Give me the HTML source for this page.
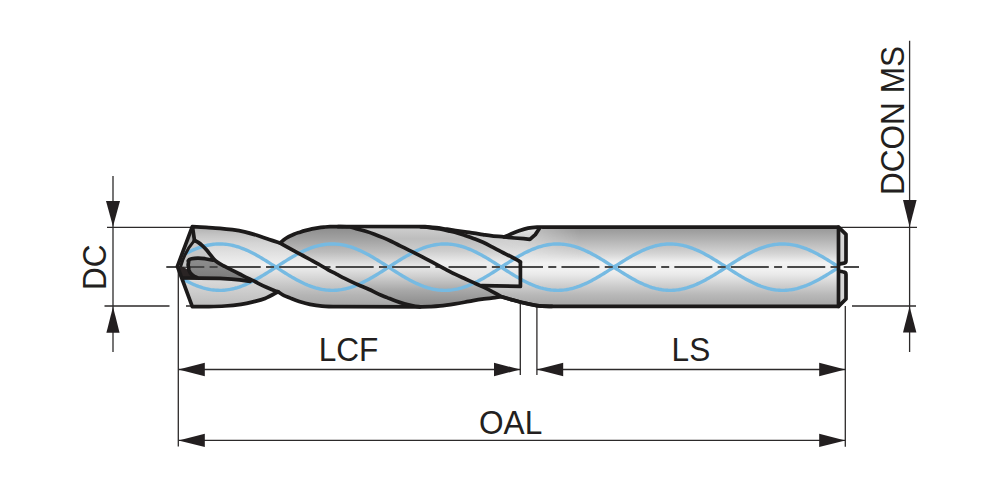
<!DOCTYPE html>
<html><head><meta charset="utf-8"><style>
html,body{margin:0;padding:0;background:#fff;overflow:hidden;}
svg{display:block;}
text{font-family:"Liberation Sans",sans-serif;fill:#231f20;}
</style></head><body>
<svg width="1000" height="488" viewBox="0 0 1000 488">
<defs>
<linearGradient id="g" x1="0" y1="227" x2="0" y2="306" gradientUnits="userSpaceOnUse">
<stop offset="0" stop-color="#959595"/>
<stop offset="0.19" stop-color="#b8b8b8"/>
<stop offset="0.34" stop-color="#d5d5d5"/>
<stop offset="0.45" stop-color="#f2f2f2"/>
<stop offset="0.55" stop-color="#f0f0f0"/>
<stop offset="0.61" stop-color="#e8e8e8"/>
<stop offset="0.73" stop-color="#d0d0d0"/>
<stop offset="0.86" stop-color="#b8b8b8"/>
<stop offset="1" stop-color="#a6a6a6"/>
</linearGradient>
<linearGradient id="gc" x1="0" y1="257" x2="0" y2="281" gradientUnits="userSpaceOnUse">
<stop offset="0" stop-color="#8e8e8e"/>
<stop offset="0.5" stop-color="#868686"/>
<stop offset="1" stop-color="#787878"/>
</linearGradient>
<linearGradient id="gl" x1="0" y1="227" x2="0" y2="241" gradientUnits="userSpaceOnUse">
<stop offset="0" stop-color="#e8e8e8"/>
<stop offset="1" stop-color="#c8c8c8"/>
</linearGradient>
<linearGradient id="gA" x1="0" y1="227" x2="0" y2="306" gradientUnits="userSpaceOnUse">
<stop offset="0" stop-color="#b0b0b0"/>
<stop offset="0.1" stop-color="#c4c4c4"/>
<stop offset="0.2" stop-color="#d4d4d4"/>
<stop offset="0.3" stop-color="#dedede"/>
<stop offset="0.4" stop-color="#e8e8e8"/>
<stop offset="0.48" stop-color="#f0f0f0"/>
<stop offset="0.57" stop-color="#e2e2e2"/>
<stop offset="0.73" stop-color="#c8c8c8"/>
<stop offset="0.86" stop-color="#b5b5b5"/>
<stop offset="1" stop-color="#a6a6a6"/>
</linearGradient>
<linearGradient id="gB" x1="0" y1="227" x2="0" y2="306" gradientUnits="userSpaceOnUse">
<stop offset="0" stop-color="#8c8c8c"/>
<stop offset="0.16" stop-color="#a2a2a2"/>
<stop offset="0.32" stop-color="#bdbdbd"/>
<stop offset="0.4" stop-color="#d0d0d0"/>
<stop offset="0.5" stop-color="#e8e8e8"/>
<stop offset="0.61" stop-color="#d2d2d2"/>
<stop offset="0.8" stop-color="#a8a8a8"/>
<stop offset="0.92" stop-color="#969696"/>
<stop offset="1" stop-color="#8c8c8c"/>
</linearGradient>
<linearGradient id="gR4" x1="0" y1="227" x2="0" y2="287" gradientUnits="userSpaceOnUse">
<stop offset="0" stop-color="#cfcfcf"/>
<stop offset="0.2" stop-color="#bdbdbd"/>
<stop offset="0.4" stop-color="#cdcdcd"/>
<stop offset="0.6" stop-color="#eeeeee"/>
<stop offset="0.8" stop-color="#e6e6e6"/>
<stop offset="1" stop-color="#d8d8d8"/>
</linearGradient>
<linearGradient id="gLow" x1="0" y1="278" x2="0" y2="306" gradientUnits="userSpaceOnUse">
<stop offset="0" stop-color="#dcdcdc"/>
<stop offset="1" stop-color="#bcbcbc"/>
</linearGradient>
<linearGradient id="gS" x1="0" y1="227" x2="0" y2="263" gradientUnits="userSpaceOnUse">
<stop offset="0" stop-color="#c8c8c8"/>
<stop offset="0.5" stop-color="#d6d6d6"/>
<stop offset="1" stop-color="#efefef"/>
</linearGradient>
<linearGradient id="gSm" x1="440" y1="0" x2="580" y2="0" gradientUnits="userSpaceOnUse">
<stop offset="0" stop-color="#fff"/>
<stop offset="0.6" stop-color="#ddd"/>
<stop offset="1" stop-color="#000"/>
</linearGradient>
<mask id="mS" maskUnits="userSpaceOnUse" x="400" y="200" width="200" height="100"><rect x="400" y="200" width="200" height="100" fill="url(#gSm)"/></mask>
<clipPath id="clip"><path d="M192.3 226.7C194.58 226.82 201.38 227.13 206 227.4C210.62 227.67 215.62 227.92 220 228.3C224.38 228.68 228.2 229.1 232.3 229.7C236.4 230.3 240.5 230.97 244.6 231.9C248.7 232.83 252.8 234.02 256.9 235.3C261 236.58 265.35 238.32 269.2 239.6C273.05 240.88 278.2 242.43 280 243C281 242.2 283.67 239.65 286 238.2C288.33 236.75 291.67 235.3 294 234.3C296.33 233.3 298 232.85 300 232.2C302 231.55 304 230.95 306 230.4C308 229.85 310 229.33 312 228.9C314 228.47 316 228.1 318 227.8C320 227.5 322 227.28 324 227.1C326 226.92 326.5 226.8 330 226.7C333.5 226.6 342.5 226.53 345 226.5L425 226.6C426.83 226.77 432.33 227.17 436 227.6C439.67 228.03 442.17 228.5 447 229.2C451.83 229.9 460.5 231.15 465 231.8C469.5 232.45 471 232.63 474 233.1C477 233.57 480 234.13 483 234.6C486 235.07 488.42 235.52 492 235.9C495.58 236.28 502.42 236.73 504.5 236.9C505.43 236.48 507.67 235.42 510.1 234.4C512.53 233.38 516.1 231.85 519.1 230.8C522.1 229.75 525.1 228.72 528.1 228.1C531.1 227.48 534.28 227.27 537.1 227.1C539.92 226.93 542.52 227.05 545 227.05C547.48 227.05 550.83 227.09 552 227.1L838.5 227.1 L838.5 306.4 L552 306.4C549.5 306.27 542.17 306.3 537 305.6C531.83 304.9 525.32 303.2 521 302.2C516.68 301.2 514.35 300.48 511.1 299.6C507.85 298.72 504.18 297.23 501.5 296.9C498.82 296.57 498.25 297.22 495 297.6C491.75 297.98 486.33 298.57 482 299.2C477.67 299.83 473.5 300.63 469 301.4C464.5 302.17 459.83 303.05 455 303.8C450.17 304.55 444.17 305.43 440 305.9C435.83 306.37 433.33 306.45 430 306.6C426.67 306.75 421.67 306.77 420 306.8L338 306.7C335.33 306.7 326.67 306.6 322 306.2C317.33 305.8 313.8 305.2 310 304.4C306.2 303.6 302.37 302.4 299.2 301.4C296.03 300.4 293.73 299.48 291 298.4C288.27 297.32 284.97 296 282.8 294.9C280.63 293.8 278.8 292.32 278 291.8C275.83 292.92 269.17 296.82 265 298.5C260.83 300.18 257 300.93 253 301.9C249 302.87 245.67 303.62 241 304.3C236.33 304.98 230.33 305.62 225 306C219.67 306.38 214.45 306.5 209 306.6C203.55 306.7 195.08 306.6 192.3 306.6L177.4 266.3 Z"/></clipPath>
</defs>
<!-- dimension lines -->
<g stroke="#2c2a2a" stroke-width="1.3" fill="none">
<path d="M113 176 V352"/>
<path d="M107 227.3 H192"/>
<path d="M104.5 306 H169.5 M186 306 H192"/>
<path d="M178.3 266 V446.5"/>
<path d="M520.3 303 V375"/>
<path d="M536.9 307 V375"/>
<path d="M845.3 306 V446.7"/>
<path d="M840 227.3 H917"/>
<path d="M852 306 H916"/>
<path d="M909.6 40.7 V352"/>
<path d="M178.5 369.5 H520.3"/>
<path d="M536.9 369.5 H845.3"/>
<path d="M178.5 440.4 H845.3"/>
</g>
<g fill="#231f20">
<path d="M106 201 L120 201 L113 226.5 Z"/>
<path d="M106.4 332.8 L119.6 332.8 L113 306.8 Z"/>
<path d="M178.5 369.5 L204.8 362.8 L204.8 376.2 Z"/>
<path d="M520.3 369.5 L494 362.8 L494 376.2 Z"/>
<path d="M536.9 369.5 L563.2 362.8 L563.2 376.2 Z"/>
<path d="M845.3 369.5 L819.2 362.8 L819.2 376.2 Z"/>
<path d="M178.5 440.4 L204.8 433.7 L204.8 447.1 Z"/>
<path d="M845.3 440.4 L819.2 433.7 L819.2 447.1 Z"/>
<path d="M903 200 L916.6 200 L909.6 227 Z"/>
<path d="M903 332.5 L916.4 332.5 L909.6 306.5 Z"/>
</g>
<!-- text -->
<text transform="translate(318.7,360.8) scale(1,1.025)" font-size="31.6">LCF</text>
<text transform="translate(671.6,360.5) scale(1,1.025)" font-size="31.6">LS</text>
<text transform="translate(479,434) scale(1,1.025)" font-size="31.6">OAL</text>
<text transform="translate(106.3,290) rotate(-90) scale(1,1.025)" font-size="31.6">DC</text>
<text transform="translate(903.9,195.1) rotate(-90) scale(1,1.025)" font-size="31.6">DCON MS</text>
<!-- body -->
<path d="M192.3 226.7C194.58 226.82 201.38 227.13 206 227.4C210.62 227.67 215.62 227.92 220 228.3C224.38 228.68 228.2 229.1 232.3 229.7C236.4 230.3 240.5 230.97 244.6 231.9C248.7 232.83 252.8 234.02 256.9 235.3C261 236.58 265.35 238.32 269.2 239.6C273.05 240.88 278.2 242.43 280 243C281 242.2 283.67 239.65 286 238.2C288.33 236.75 291.67 235.3 294 234.3C296.33 233.3 298 232.85 300 232.2C302 231.55 304 230.95 306 230.4C308 229.85 310 229.33 312 228.9C314 228.47 316 228.1 318 227.8C320 227.5 322 227.28 324 227.1C326 226.92 326.5 226.8 330 226.7C333.5 226.6 342.5 226.53 345 226.5L425 226.6C426.83 226.77 432.33 227.17 436 227.6C439.67 228.03 442.17 228.5 447 229.2C451.83 229.9 460.5 231.15 465 231.8C469.5 232.45 471 232.63 474 233.1C477 233.57 480 234.13 483 234.6C486 235.07 488.42 235.52 492 235.9C495.58 236.28 502.42 236.73 504.5 236.9C505.43 236.48 507.67 235.42 510.1 234.4C512.53 233.38 516.1 231.85 519.1 230.8C522.1 229.75 525.1 228.72 528.1 228.1C531.1 227.48 534.28 227.27 537.1 227.1C539.92 226.93 542.52 227.05 545 227.05C547.48 227.05 550.83 227.09 552 227.1L838.5 227.1 L838.5 306.4 L552 306.4C549.5 306.27 542.17 306.3 537 305.6C531.83 304.9 525.32 303.2 521 302.2C516.68 301.2 514.35 300.48 511.1 299.6C507.85 298.72 504.18 297.23 501.5 296.9C498.82 296.57 498.25 297.22 495 297.6C491.75 297.98 486.33 298.57 482 299.2C477.67 299.83 473.5 300.63 469 301.4C464.5 302.17 459.83 303.05 455 303.8C450.17 304.55 444.17 305.43 440 305.9C435.83 306.37 433.33 306.45 430 306.6C426.67 306.75 421.67 306.77 420 306.8L338 306.7C335.33 306.7 326.67 306.6 322 306.2C317.33 305.8 313.8 305.2 310 304.4C306.2 303.6 302.37 302.4 299.2 301.4C296.03 300.4 293.73 299.48 291 298.4C288.27 297.32 284.97 296 282.8 294.9C280.63 293.8 278.8 292.32 278 291.8C275.83 292.92 269.17 296.82 265 298.5C260.83 300.18 257 300.93 253 301.9C249 302.87 245.67 303.62 241 304.3C236.33 304.98 230.33 305.62 225 306C219.67 306.38 214.45 306.5 209 306.6C203.55 306.7 195.08 306.6 192.3 306.6L177.4 266.3 Z" fill="url(#g)"/>
<g clip-path="url(#clip)">
<path d="M192.3 226.7C194.58 226.82 201.38 227.13 206 227.4C210.62 227.67 215.62 227.92 220 228.3C224.38 228.68 228.2 229.1 232.3 229.7C236.4 230.3 240.5 230.97 244.6 231.9C248.7 232.83 252.8 234.02 256.9 235.3C261 236.58 265.35 238.32 269.2 239.6C273.05 240.88 278.2 242.43 280 243C281.07 243.62 283.97 245.33 286.4 246.7C288.83 248.07 291.87 249.73 294.6 251.2C297.33 252.67 300.07 254.03 302.8 255.5C305.53 256.97 308.13 258.42 311 260C313.87 261.58 317.13 263.37 320 265C322.87 266.63 325.47 268.28 328.2 269.8C330.93 271.32 333.67 272.67 336.4 274.1C339.13 275.53 341.87 277.02 344.6 278.4C347.33 279.78 350.07 281.13 352.8 282.4C355.53 283.67 358.27 284.82 361 286C363.73 287.18 366.27 288.15 369.2 289.5C372.13 290.85 375.6 292.75 378.6 294.1C381.6 295.45 384.33 296.45 387.2 297.6C390.07 298.75 392.93 299.97 395.8 301C398.67 302.03 401.53 303 404.4 303.8C407.27 304.6 410.4 305.3 413 305.8C415.6 306.3 418.83 306.63 420 306.8L338 306.7C335.33 306.7 326.67 306.6 322 306.2C317.33 305.8 313.8 305.2 310 304.4C306.2 303.6 302.37 302.4 299.2 301.4C296.03 300.4 293.73 299.48 291 298.4C288.27 297.32 284.97 296 282.8 294.9C280.63 293.8 278.8 292.32 278 291.8C277.43 291.6 276.53 291.35 274.6 290.6C272.67 289.85 269.13 288.52 266.4 287.3C263.67 286.08 260.1 284.27 258.2 283.3C256.3 282.33 256.73 282.35 255 281.5C253.27 280.65 250.37 279.45 247.8 278.2C245.23 276.95 242.33 275.4 239.6 274C236.87 272.6 234.13 271.2 231.4 269.8C228.67 268.4 225.43 266.8 223.2 265.6C220.97 264.4 219.53 263.63 218 262.6C216.47 261.57 215.25 260.68 214 259.4C212.75 258.12 211.77 256.5 210.5 254.9C209.23 253.3 207.77 251.35 206.4 249.8C205.03 248.25 203.67 246.83 202.3 245.6C200.93 244.37 199.5 243.27 198.2 242.4C196.9 241.53 195.12 240.73 194.5 240.4Z" fill="url(#gA)"/>
<path d="M280 243C281 242.2 283.67 239.65 286 238.2C288.33 236.75 291.67 235.3 294 234.3C296.33 233.3 298 232.85 300 232.2C302 231.55 304 230.95 306 230.4C308 229.85 310 229.33 312 228.9C314 228.47 316 228.1 318 227.8C320 227.5 322 227.28 324 227.1C326 226.92 326.5 226.8 330 226.7C333.5 226.6 342.5 226.53 345 226.5L348 227.2C351.2 227.32 354.57 228.18 357.2 228.9C359.83 229.62 362.93 230.42 365.8 231.3C368.67 232.18 371.53 233.15 374.4 234.2C377.27 235.25 380.13 236.38 383 237.6C385.87 238.82 388.73 240.13 391.6 241.5C394.47 242.87 397.33 244.37 400.2 245.8C403.07 247.23 405.93 248.67 408.8 250.1C411.67 251.53 414.53 252.95 417.4 254.4C420.27 255.85 423.07 257.27 426 258.8C428.93 260.33 431.72 261.85 435 263.6C438.28 265.35 442.37 267.53 445.7 269.3C449.03 271.07 451.78 272.62 455 274.2C458.22 275.78 461.8 277.35 465 278.8C468.2 280.25 471.12 281.5 474.2 282.9C477.28 284.3 480.42 285.72 483.5 287.2C486.58 288.68 489.7 290.23 492.7 291.8C495.7 293.37 500.03 295.8 501.5 296.6L501.5 296.9C500.42 297.02 498.25 297.22 495 297.6C491.75 297.98 486.33 298.57 482 299.2C477.67 299.83 473.5 300.63 469 301.4C464.5 302.17 459.83 303.05 455 303.8C450.17 304.55 444.17 305.43 440 305.9C435.83 306.37 433.33 306.45 430 306.6C426.67 306.75 421.67 306.77 420 306.8C418.83 306.63 415.6 306.3 413 305.8C410.4 305.3 407.27 304.6 404.4 303.8C401.53 303 398.67 302.03 395.8 301C392.93 299.97 390.07 298.75 387.2 297.6C384.33 296.45 381.6 295.45 378.6 294.1C375.6 292.75 372.13 290.85 369.2 289.5C366.27 288.15 363.73 287.18 361 286C358.27 284.82 355.53 283.67 352.8 282.4C350.07 281.13 347.33 279.78 344.6 278.4C341.87 277.02 339.13 275.53 336.4 274.1C333.67 272.67 330.93 271.32 328.2 269.8C325.47 268.28 322.87 266.63 320 265C317.13 263.37 313.87 261.58 311 260C308.13 258.42 305.53 256.97 302.8 255.5C300.07 254.03 297.33 252.67 294.6 251.2C291.87 249.73 288.83 248.07 286.4 246.7C283.97 245.33 281.07 243.62 280 243Z" fill="url(#gB)"/>
<path d="M348 227.2 L425 226.6C422.5 226.93 426.83 227.23 430 227.6C433.17 227.97 436.67 228.4 440 229C443.33 229.6 447 230.5 450 231.2C453 231.9 455.5 232.48 458 233.2C460.5 233.92 462.33 234.58 465 235.5C467.67 236.42 471 237.57 474 238.7C477 239.83 480 240.95 483 242.3C486 243.65 489 245.25 492 246.8C495 248.35 497.98 250.03 501 251.6C504.02 253.17 507.43 254.83 510.1 256.2C512.77 257.57 515.28 258.83 517 259.8C518.72 260.77 519.83 261.63 520.4 262L520.4 286.4 L481.6 285.6C481.95 286.48 477.28 284.3 474.2 282.9C471.12 281.5 468.2 280.25 465 278.8C461.8 277.35 458.22 275.78 455 274.2C451.78 272.62 449.03 271.07 445.7 269.3C442.37 267.53 438.28 265.35 435 263.6C431.72 261.85 428.93 260.33 426 258.8C423.07 257.27 420.27 255.85 417.4 254.4C414.53 252.95 411.67 251.53 408.8 250.1C405.93 248.67 403.07 247.23 400.2 245.8C397.33 244.37 394.47 242.87 391.6 241.5C388.73 240.13 385.87 238.82 383 237.6C380.13 236.38 377.27 235.25 374.4 234.2C371.53 233.15 368.67 232.18 365.8 231.3C362.93 230.42 359.83 229.62 357.2 228.9C354.57 228.18 351.2 227.32 350 227Z" fill="url(#gR4)"/>
<path d="M183 278 L200 278.1 L220 278.4 L231.4 279.1 L239.6 279.8 L250.2 281.3 L255 281.5C255.53 281.77 256.3 282.15 258.2 283.1C260.1 284.05 263.67 285.97 266.4 287.2C269.13 288.43 272.67 289.73 274.6 290.5C276.53 291.27 277.43 291.58 278 291.8C275.83 292.92 269.17 296.82 265 298.5C260.83 300.18 257 300.93 253 301.9C249 302.87 245.67 303.62 241 304.3C236.33 304.98 230.33 305.62 225 306C219.67 306.38 214.45 306.5 209 306.6C203.55 306.7 195.08 306.6 192.3 306.6Z" fill="url(#gLow)"/>
<path d="M194.5 240.4C195.12 240.73 196.9 241.53 198.2 242.4C199.5 243.27 200.93 244.4 202.3 245.6C203.67 246.8 205.03 248.13 206.4 249.6C207.77 251.07 209.48 252.77 210.5 254.4C211.52 256.03 212.17 258.57 212.5 259.4L205 257.7 L192 257.6 L186.5 263 L181.6 263.6 L184.6 258 L190 248.8 Z" fill="#c6c6c6"/>
<path d="M440 229.4C441.17 229.37 442.83 228.83 447 229.2C451.17 229.57 460.5 231 465 231.6C469.5 232.2 471 232.3 474 232.8C477 233.3 480 234.08 483 234.6C486 235.12 488.42 235.52 492 235.9C495.58 236.28 502.42 236.73 504.5 236.9L514.6 238 L523.6 238.7 L529.9 239.4 L535.3 234.6 L539 229 L552 226.7 L580 226.8 L580 263 L520.4 263C519.83 261.63 518.72 260.77 517 259.8C515.28 258.83 512.77 257.57 510.1 256.2C507.43 254.83 504.02 253.17 501 251.6C497.98 250.03 495 248.35 492 246.8C489 245.25 486 243.65 483 242.3C480 240.95 477 239.83 474 238.7C471 237.57 467.67 236.42 465 235.5C462.33 234.58 460.5 233.92 458 233.2C455.5 232.48 453 231.9 450 231.2C447 230.5 441.67 229.37 440 229Z" fill="url(#gS)" mask="url(#mS)"/>
<path d="M504.5 236.9C505.43 236.48 507.67 235.42 510.1 234.4C512.53 233.38 516.1 231.87 519.1 230.8C522.1 229.73 525.1 228.68 528.1 228C531.1 227.32 535.6 226.92 537.1 226.7L539 229 L535.3 234.6 L529.9 239.4 L514.6 237.8 Z" fill="url(#gl)"/>
<path d="M176 259.16 L177.5 258.26 L179 257.37 L180.5 256.5 L182 255.64 L183.5 254.81 L185 254 L186.5 253.21 L188 252.45 L189.5 251.71 L191 251 L192.5 250.32 L194 249.66 L195.5 249.04 L197 248.45 L198.5 247.89 L200 247.37 L201.5 246.88 L203 246.42 L204.5 246.01 L206 245.62 L207.5 245.28 L209 244.98 L210.5 244.71 L212 244.48 L213.5 244.3 L215 244.15 L216.5 244.04 L218 243.98 L219.5 243.95 L221 243.97 L222.5 244.02 L224 244.12 L225.5 244.25 L227 244.43 L228.5 244.65 L230 244.9 L231.5 245.2 L233 245.53 L234.5 245.9 L236 246.31 L237.5 246.75 L239 247.23 L240.5 247.75 L242 248.3 L243.5 248.88 L245 249.49 L246.5 250.14 L248 250.81 L249.5 251.52 L251 252.25 L252.5 253.01 L254 253.79 L255.5 254.59 L257 255.42 L258.5 256.27 L260 257.13 L261.5 258.02 L263 258.92 L264.5 259.83 L266 260.76 L267.5 261.7 L269 262.65 L270.5 263.6 L272 264.57 L273.5 265.53 L275 266.5 L276.5 267.47 L278 268.44 L279.5 269.41 L281 270.38 L282.5 271.33 L284 272.29 L285.5 273.23 L287 274.16 L288.5 275.08 L290 275.98 L291.5 276.87 L293 277.75 L294.5 278.6 L296 279.43 L297.5 280.25 L299 281.04 L300.5 281.8 L302 282.54 L303.5 283.25 L305 283.94 L306.5 284.59 L308 285.22 L309.5 285.81 L311 286.37 L312.5 286.9 L314 287.39 L315.5 287.85 L317 288.27 L318.5 288.65 L320 289 L321.5 289.3 L323 289.57 L324.5 289.8 L326 289.99 L327.5 290.14 L329 290.25 L330.5 290.32 L332 290.35 L333.5 290.34 L335 290.28 L336.5 290.19 L338 290.06 L339.5 289.88 L341 289.67 L342.5 289.42 L344 289.12 L345.5 288.79 L347 288.43 L348.5 288.02 L350 287.58 L351.5 287.1 L353 286.59 L354.5 286.04 L356 285.46 L357.5 284.85 L359 284.2 L360.5 283.53 L362 282.83 L363.5 282.1 L365 281.35 L366.5 280.57 L368 279.76 L369.5 278.94 L371 278.09 L372.5 277.22 L374 276.34 L375.5 275.44 L377 274.53 L378.5 273.6 L380 272.66 L381.5 271.72 L383 270.76 L384.5 269.8 L386 268.83 L387.5 267.86 L389 266.89 L390.5 265.92 L392 264.95 L393.5 263.99 L395 263.03 L396.5 262.08 L398 261.13 L399.5 260.2 L401 259.28 L402.5 258.38 L404 257.49 L405.5 256.61 L407 255.76 L408.5 254.92 L410 254.11 L411.5 253.32 L413 252.55 L414.5 251.81 L416 251.09 L417.5 250.41 L419 249.75 L420.5 249.12 L422 248.53 L423.5 247.96 L425 247.43 L426.5 246.94 L428 246.48 L429.5 246.06 L431 245.67 L432.5 245.32 L434 245.01 L435.5 244.74 L437 244.51 L438.5 244.32 L440 244.17 L441.5 244.05 L443 243.98 L444.5 243.95 L446 243.96 L447.5 244.01 L449 244.1 L450.5 244.23 L452 244.4 L453.5 244.61 L455 244.87 L456.5 245.15 L458 245.48 L459.5 245.85 L461 246.25 L462.5 246.69 L464 247.17 L465.5 247.68 L467 248.22 L468.5 248.8 L470 249.41 L471.5 250.05 L473 250.72 L474.5 251.42 L476 252.15 L477.5 252.9 L479 253.68 L480.5 254.48 L482 255.31 L483.5 256.15 L485 257.02 L486.5 257.9 L488 258.8 L489.5 259.71 L491 260.64 L492.5 261.57 L494 262.52 L495.5 263.48 L497 264.44 L498.5 265.4 L500 266.37 L501.5 267.34 L503 268.31 L504.5 269.28 L506 270.25 L507.5 271.21 L509 272.16 L510.5 273.1 L512 274.04 L513.5 274.96 L515 275.86 L516.5 276.76 L518 277.63 L519.5 278.49 L521 279.32 L522.5 280.14 L524 280.93 L525.5 281.7 L527 282.44 L528.5 283.16 L530 283.85 L531.5 284.51 L533 285.14 L534.5 285.73 L536 286.3 L537.5 286.83 L539 287.33 L540.5 287.79 L542 288.21 L543.5 288.6 L545 288.95 L546.5 289.27 L548 289.54 L549.5 289.77 L551 289.97 L552.5 290.12 L554 290.24 L555.5 290.31 L557 290.35 L558.5 290.34 L560 290.29 L561.5 290.21 L563 290.08 L564.5 289.91 L566 289.7 L567.5 289.45 L569 289.17 L570.5 288.84 L572 288.48 L573.5 288.08 L575 287.64 L576.5 287.17 L578 286.66 L579.5 286.12 L581 285.54 L582.5 284.93 L584 284.29 L585.5 283.62 L587 282.93 L588.5 282.2 L590 281.45 L591.5 280.67 L593 279.87 L594.5 279.05 L596 278.2 L597.5 277.34 L599 276.46 L600.5 275.56 L602 274.65 L603.5 273.73 L605 272.79 L606.5 271.84 L608 270.89 L609.5 269.93 L611 268.96 L612.5 267.99 L614 267.02 L615.5 266.05 L617 265.08 L618.5 264.12 L620 263.16 L621.5 262.2 L623 261.26 L624.5 260.33 L626 259.4 L627.5 258.5 L629 257.6 L630.5 256.73 L632 255.87 L633.5 255.03 L635 254.21 L636.5 253.42 L638 252.65 L639.5 251.9 L641 251.19 L642.5 250.5 L644 249.83 L645.5 249.2 L647 248.6 L648.5 248.04 L650 247.5 L651.5 247 L653 246.54 L654.5 246.11 L656 245.72 L657.5 245.37 L659 245.05 L660.5 244.78 L662 244.54 L663.5 244.34 L665 244.18 L666.5 244.07 L668 243.99 L669.5 243.95 L671 243.96 L672.5 244 L674 244.09 L675.5 244.21 L677 244.38 L678.5 244.58 L680 244.83 L681.5 245.11 L683 245.44 L684.5 245.8 L686 246.2 L687.5 246.63 L689 247.1 L690.5 247.61 L692 248.15 L693.5 248.72 L695 249.33 L696.5 249.96 L698 250.63 L699.5 251.33 L701 252.05 L702.5 252.8 L704 253.58 L705.5 254.38 L707 255.2 L708.5 256.04 L710 256.9 L711.5 257.78 L713 258.68 L714.5 259.59 L716 260.51 L717.5 261.45 L719 262.39 L720.5 263.35 L722 264.31 L723.5 265.27 L725 266.24 L726.5 267.21 L728 268.19 L729.5 269.15 L731 270.12 L732.5 271.08 L734 272.03 L735.5 272.98 L737 273.91 L738.5 274.83 L740 275.74 L741.5 276.64 L743 277.51 L744.5 278.37 L746 279.21 L747.5 280.03 L749 280.83 L750.5 281.6 L752 282.35 L753.5 283.07 L755 283.76 L756.5 284.42 L758 285.06 L759.5 285.66 L761 286.23 L762.5 286.76 L764 287.26 L765.5 287.73 L767 288.16 L768.5 288.55 L770 288.91 L771.5 289.23 L773 289.51 L774.5 289.75 L776 289.95 L777.5 290.11 L779 290.23 L780.5 290.31 L782 290.35 L783.5 290.34 L785 290.3 L786.5 290.22 L788 290.1 L789.5 289.93 L791 289.73 L792.5 289.49 L794 289.21 L795.5 288.89 L797 288.53 L798.5 288.13 L800 287.7 L801.5 287.23 L803 286.73 L804.5 286.19 L806 285.62 L807.5 285.01 L809 284.38 L810.5 283.71 L812 283.02 L813.5 282.3 L815 281.55 L816.5 280.78 L818 279.98 L819.5 279.16 L821 278.32 L822.5 277.46 L824 276.58 L825.5 275.68 L827 274.77 L828.5 273.85 L830 272.91 L831.5 271.97 L833 271.02 L834.5 270.06 L836 269.09 L837.5 268.12 L839 267.15" stroke="#76bae2" stroke-width="3.4" fill="none"/>
<path d="M176 275.14 L177.5 276.04 L179 276.93 L180.5 277.8 L182 278.66 L183.5 279.49 L185 280.3 L186.5 281.09 L188 281.85 L189.5 282.59 L191 283.3 L192.5 283.98 L194 284.64 L195.5 285.26 L197 285.85 L198.5 286.41 L200 286.93 L201.5 287.42 L203 287.88 L204.5 288.29 L206 288.68 L207.5 289.02 L209 289.32 L210.5 289.59 L212 289.82 L213.5 290 L215 290.15 L216.5 290.26 L218 290.32 L219.5 290.35 L221 290.33 L222.5 290.28 L224 290.18 L225.5 290.05 L227 289.87 L228.5 289.65 L230 289.4 L231.5 289.1 L233 288.77 L234.5 288.4 L236 287.99 L237.5 287.55 L239 287.07 L240.5 286.55 L242 286 L243.5 285.42 L245 284.81 L246.5 284.16 L248 283.49 L249.5 282.78 L251 282.05 L252.5 281.29 L254 280.51 L255.5 279.71 L257 278.88 L258.5 278.03 L260 277.17 L261.5 276.28 L263 275.38 L264.5 274.47 L266 273.54 L267.5 272.6 L269 271.65 L270.5 270.7 L272 269.73 L273.5 268.77 L275 267.8 L276.5 266.83 L278 265.86 L279.5 264.89 L281 263.92 L282.5 262.97 L284 262.01 L285.5 261.07 L287 260.14 L288.5 259.22 L290 258.32 L291.5 257.43 L293 256.55 L294.5 255.7 L296 254.87 L297.5 254.05 L299 253.26 L300.5 252.5 L302 251.76 L303.5 251.05 L305 250.36 L306.5 249.71 L308 249.08 L309.5 248.49 L311 247.93 L312.5 247.4 L314 246.91 L315.5 246.45 L317 246.03 L318.5 245.65 L320 245.3 L321.5 245 L323 244.73 L324.5 244.5 L326 244.31 L327.5 244.16 L329 244.05 L330.5 243.98 L332 243.95 L333.5 243.96 L335 244.02 L336.5 244.11 L338 244.24 L339.5 244.42 L341 244.63 L342.5 244.88 L344 245.18 L345.5 245.51 L347 245.87 L348.5 246.28 L350 246.72 L351.5 247.2 L353 247.71 L354.5 248.26 L356 248.84 L357.5 249.45 L359 250.1 L360.5 250.77 L362 251.47 L363.5 252.2 L365 252.95 L366.5 253.73 L368 254.54 L369.5 255.36 L371 256.21 L372.5 257.08 L374 257.96 L375.5 258.86 L377 259.77 L378.5 260.7 L380 261.64 L381.5 262.58 L383 263.54 L384.5 264.5 L386 265.47 L387.5 266.44 L389 267.41 L390.5 268.38 L392 269.35 L393.5 270.31 L395 271.27 L396.5 272.22 L398 273.17 L399.5 274.1 L401 275.02 L402.5 275.92 L404 276.81 L405.5 277.69 L407 278.54 L408.5 279.38 L410 280.19 L411.5 280.98 L413 281.75 L414.5 282.49 L416 283.21 L417.5 283.89 L419 284.55 L420.5 285.18 L422 285.77 L423.5 286.34 L425 286.87 L426.5 287.36 L428 287.82 L429.5 288.24 L431 288.63 L432.5 288.98 L434 289.29 L435.5 289.56 L437 289.79 L438.5 289.98 L440 290.13 L441.5 290.25 L443 290.32 L444.5 290.35 L446 290.34 L447.5 290.29 L449 290.2 L450.5 290.07 L452 289.9 L453.5 289.69 L455 289.43 L456.5 289.15 L458 288.82 L459.5 288.45 L461 288.05 L462.5 287.61 L464 287.13 L465.5 286.62 L467 286.08 L468.5 285.5 L470 284.89 L471.5 284.25 L473 283.58 L474.5 282.88 L476 282.15 L477.5 281.4 L479 280.62 L480.5 279.82 L482 278.99 L483.5 278.15 L485 277.28 L486.5 276.4 L488 275.5 L489.5 274.59 L491 273.66 L492.5 272.73 L494 271.78 L495.5 270.82 L497 269.86 L498.5 268.9 L500 267.93 L501.5 266.96 L503 265.99 L504.5 265.02 L506 264.05 L507.5 263.09 L509 262.14 L510.5 261.2 L512 260.26 L513.5 259.34 L515 258.44 L516.5 257.54 L518 256.67 L519.5 255.81 L521 254.98 L522.5 254.16 L524 253.37 L525.5 252.6 L527 251.86 L528.5 251.14 L530 250.45 L531.5 249.79 L533 249.16 L534.5 248.57 L536 248 L537.5 247.47 L539 246.97 L540.5 246.51 L542 246.09 L543.5 245.7 L545 245.35 L546.5 245.03 L548 244.76 L549.5 244.53 L551 244.33 L552.5 244.18 L554 244.06 L555.5 243.99 L557 243.95 L558.5 243.96 L560 244.01 L561.5 244.09 L563 244.22 L564.5 244.39 L566 244.6 L567.5 244.85 L569 245.13 L570.5 245.46 L572 245.82 L573.5 246.22 L575 246.66 L576.5 247.13 L578 247.64 L579.5 248.18 L581 248.76 L582.5 249.37 L584 250.01 L585.5 250.68 L587 251.37 L588.5 252.1 L590 252.85 L591.5 253.63 L593 254.43 L594.5 255.25 L596 256.1 L597.5 256.96 L599 257.84 L600.5 258.74 L602 259.65 L603.5 260.57 L605 261.51 L606.5 262.46 L608 263.41 L609.5 264.37 L611 265.34 L612.5 266.31 L614 267.28 L615.5 268.25 L617 269.22 L618.5 270.18 L620 271.14 L621.5 272.1 L623 273.04 L624.5 273.97 L626 274.9 L627.5 275.8 L629 276.7 L630.5 277.57 L632 278.43 L633.5 279.27 L635 280.09 L636.5 280.88 L638 281.65 L639.5 282.4 L641 283.11 L642.5 283.8 L644 284.47 L645.5 285.1 L647 285.7 L648.5 286.26 L650 286.8 L651.5 287.3 L653 287.76 L654.5 288.19 L656 288.58 L657.5 288.93 L659 289.25 L660.5 289.52 L662 289.76 L663.5 289.96 L665 290.12 L666.5 290.23 L668 290.31 L669.5 290.35 L671 290.34 L672.5 290.3 L674 290.21 L675.5 290.09 L677 289.92 L678.5 289.72 L680 289.47 L681.5 289.19 L683 288.86 L684.5 288.5 L686 288.1 L687.5 287.67 L689 287.2 L690.5 286.69 L692 286.15 L693.5 285.58 L695 284.97 L696.5 284.34 L698 283.67 L699.5 282.97 L701 282.25 L702.5 281.5 L704 280.72 L705.5 279.92 L707 279.1 L708.5 278.26 L710 277.4 L711.5 276.52 L713 275.62 L714.5 274.71 L716 273.79 L717.5 272.85 L719 271.91 L720.5 270.95 L722 269.99 L723.5 269.03 L725 268.06 L726.5 267.09 L728 266.11 L729.5 265.15 L731 264.18 L732.5 263.22 L734 262.27 L735.5 261.32 L737 260.39 L738.5 259.47 L740 258.56 L741.5 257.66 L743 256.79 L744.5 255.93 L746 255.09 L747.5 254.27 L749 253.47 L750.5 252.7 L752 251.95 L753.5 251.23 L755 250.54 L756.5 249.88 L758 249.24 L759.5 248.64 L761 248.07 L762.5 247.54 L764 247.04 L765.5 246.57 L767 246.14 L768.5 245.75 L770 245.39 L771.5 245.07 L773 244.79 L774.5 244.55 L776 244.35 L777.5 244.19 L779 244.07 L780.5 243.99 L782 243.95 L783.5 243.96 L785 244 L786.5 244.08 L788 244.2 L789.5 244.37 L791 244.57 L792.5 244.81 L794 245.09 L795.5 245.41 L797 245.77 L798.5 246.17 L800 246.6 L801.5 247.07 L803 247.57 L804.5 248.11 L806 248.68 L807.5 249.29 L809 249.92 L810.5 250.59 L812 251.28 L813.5 252 L815 252.75 L816.5 253.52 L818 254.32 L819.5 255.14 L821 255.98 L822.5 256.84 L824 257.72 L825.5 258.62 L827 259.53 L828.5 260.45 L830 261.39 L831.5 262.33 L833 263.28 L834.5 264.24 L836 265.21 L837.5 266.18 L839 267.15" stroke="#76bae2" stroke-width="3.4" fill="none"/>
<path d="M187 264 C187.3 261.5 189 259.4 192.5 258.6 C196.5 258 201 258.2 205 258.7 L213 260.2C213.17 260.07 213.17 259 214 259.4C214.83 259.8 216.47 261.57 218 262.6C219.53 263.63 220.97 264.4 223.2 265.6C225.43 266.8 228.67 268.4 231.4 269.8C234.13 271.2 236.87 272.6 239.6 274C242.33 275.4 245.73 277.17 247.8 278.2C249.87 279.23 251.3 279.87 252 280.2 L250.2 281.5 L239.6 279.8 L231.4 279.1 L220 278.4 L200 277.9 L196 277.6 C193 276.3 190.5 274 189.2 271 C188 268 187 266 187 264 Z" fill="url(#gc)"/>
</g>
<path d="M164.8 267 H859" stroke="#484848" stroke-width="1.8" stroke-dasharray="38 5.3 8 5.15" stroke-dashoffset="-1.5" fill="none"/>
<path d="M177.6 266.6 L181.6 265.8 L188.6 270.2 L190 273 L193.5 276 L198 278.2 L183.6 279.5 Z" fill="#2a2424"/>
<path d="M181.6 266.4 L186.8 256 L189.2 259.5 L188.4 266.8 Z" fill="#c4c4c4"/>
<path d="M838.5 227.1 L846 234.4 L846 261 Q846 263.2 843 263.4 L838.5 264 Z M838.5 271.3 L843 271.8 Q846 272 846 274.4 L846 299 L838.5 306.4 Z" fill="#d6d6d6"/>
<g stroke="#1c1a1a" stroke-width="3.7" fill="none" stroke-linejoin="round" stroke-linecap="round">
<path d="M192.3 226.7C194.58 226.82 201.38 227.13 206 227.4C210.62 227.67 215.62 227.92 220 228.3C224.38 228.68 228.2 229.1 232.3 229.7C236.4 230.3 240.5 230.97 244.6 231.9C248.7 232.83 252.8 234.02 256.9 235.3C261 236.58 265.35 238.32 269.2 239.6C273.05 240.88 278.2 242.43 280 243C281 242.2 283.67 239.65 286 238.2C288.33 236.75 291.67 235.3 294 234.3C296.33 233.3 298 232.85 300 232.2C302 231.55 304 230.95 306 230.4C308 229.85 310 229.33 312 228.9C314 228.47 316 228.1 318 227.8C320 227.5 322 227.28 324 227.1C326 226.92 326.5 226.8 330 226.7C333.5 226.6 342.5 226.53 345 226.5L425 226.6C426.83 226.77 432.33 227.17 436 227.6C439.67 228.03 442.17 228.5 447 229.2C451.83 229.9 460.5 231.15 465 231.8C469.5 232.45 471 232.63 474 233.1C477 233.57 480 234.13 483 234.6C486 235.07 488.42 235.52 492 235.9C495.58 236.28 502.42 236.73 504.5 236.9C505.43 236.48 507.67 235.42 510.1 234.4C512.53 233.38 516.1 231.85 519.1 230.8C522.1 229.75 525.1 228.72 528.1 228.1C531.1 227.48 534.28 227.27 537.1 227.1C539.92 226.93 542.52 227.05 545 227.05C547.48 227.05 550.83 227.09 552 227.1L838.5 227.1 L838.5 306.4 L552 306.4C549.5 306.27 542.17 306.3 537 305.6C531.83 304.9 525.32 303.2 521 302.2C516.68 301.2 514.35 300.48 511.1 299.6C507.85 298.72 504.18 297.23 501.5 296.9C498.82 296.57 498.25 297.22 495 297.6C491.75 297.98 486.33 298.57 482 299.2C477.67 299.83 473.5 300.63 469 301.4C464.5 302.17 459.83 303.05 455 303.8C450.17 304.55 444.17 305.43 440 305.9C435.83 306.37 433.33 306.45 430 306.6C426.67 306.75 421.67 306.77 420 306.8L338 306.7C335.33 306.7 326.67 306.6 322 306.2C317.33 305.8 313.8 305.2 310 304.4C306.2 303.6 302.37 302.4 299.2 301.4C296.03 300.4 293.73 299.48 291 298.4C288.27 297.32 284.97 296 282.8 294.9C280.63 293.8 278.8 292.32 278 291.8C275.83 292.92 269.17 296.82 265 298.5C260.83 300.18 257 300.93 253 301.9C249 302.87 245.67 303.62 241 304.3C236.33 304.98 230.33 305.62 225 306C219.67 306.38 214.45 306.5 209 306.6C203.55 306.7 195.08 306.6 192.3 306.6L177.4 266.3 Z"/>
<path d="M194.5 240.4C195.12 240.73 196.9 241.53 198.2 242.4C199.5 243.27 200.93 244.37 202.3 245.6C203.67 246.83 205.03 248.25 206.4 249.8C207.77 251.35 209.23 253.3 210.5 254.9C211.77 256.5 212.75 258.12 214 259.4C215.25 260.68 216.47 261.57 218 262.6C219.53 263.63 220.97 264.4 223.2 265.6C225.43 266.8 228.67 268.4 231.4 269.8C234.13 271.2 236.87 272.6 239.6 274C242.33 275.4 245.23 276.95 247.8 278.2C250.37 279.45 253.27 280.65 255 281.5C256.73 282.35 256.3 282.33 258.2 283.3C260.1 284.27 263.67 286.08 266.4 287.3C269.13 288.52 272.67 289.85 274.6 290.6C276.53 291.35 277.43 291.6 278 291.8"/>
<path d="M280 243C281.07 243.62 283.97 245.33 286.4 246.7C288.83 248.07 291.87 249.73 294.6 251.2C297.33 252.67 300.07 254.03 302.8 255.5C305.53 256.97 308.13 258.42 311 260C313.87 261.58 317.13 263.37 320 265C322.87 266.63 325.47 268.28 328.2 269.8C330.93 271.32 333.67 272.67 336.4 274.1C339.13 275.53 341.87 277.02 344.6 278.4C347.33 279.78 350.07 281.13 352.8 282.4C355.53 283.67 358.27 284.82 361 286C363.73 287.18 366.27 288.15 369.2 289.5C372.13 290.85 375.6 292.75 378.6 294.1C381.6 295.45 384.33 296.45 387.2 297.6C390.07 298.75 392.93 299.97 395.8 301C398.67 302.03 401.53 303 404.4 303.8C407.27 304.6 410.4 305.3 413 305.8C415.6 306.3 418.83 306.63 420 306.8"/>
<path d="M338 226.6C340 226.67 346.8 226.62 350 227C353.2 227.38 354.57 228.18 357.2 228.9C359.83 229.62 362.93 230.42 365.8 231.3C368.67 232.18 371.53 233.15 374.4 234.2C377.27 235.25 380.13 236.38 383 237.6C385.87 238.82 388.73 240.13 391.6 241.5C394.47 242.87 397.33 244.37 400.2 245.8C403.07 247.23 405.93 248.67 408.8 250.1C411.67 251.53 414.53 252.95 417.4 254.4C420.27 255.85 423.07 257.27 426 258.8C428.93 260.33 431.72 261.85 435 263.6C438.28 265.35 442.37 267.53 445.7 269.3C449.03 271.07 451.78 272.62 455 274.2C458.22 275.78 461.8 277.35 465 278.8C468.2 280.25 471.12 281.5 474.2 282.9C477.28 284.3 480.42 285.72 483.5 287.2C486.58 288.68 489.7 290.23 492.7 291.8C495.7 293.37 498.43 295.32 501.5 296.6C504.57 297.88 507.85 298.57 511.1 299.5C514.35 300.43 516.68 301.18 521 302.2C525.32 303.22 531.83 304.9 537 305.6C542.17 306.3 549.5 306.27 552 306.4"/>
<path d="M421 226.8C422.5 226.93 426.83 227.23 430 227.6C433.17 227.97 436.67 228.4 440 229C443.33 229.6 447 230.5 450 231.2C453 231.9 455.5 232.48 458 233.2C460.5 233.92 462.33 234.58 465 235.5C467.67 236.42 471 237.57 474 238.7C477 239.83 480 240.95 483 242.3C486 243.65 489 245.25 492 246.8C495 248.35 497.98 250.03 501 251.6C504.02 253.17 507.43 254.83 510.1 256.2C512.77 257.57 515.28 258.83 517 259.8C518.72 260.77 519.83 261.63 520.4 262"/>
<path d="M520.4 262 L520.4 286.4 L481.6 285.6"/>
<path d="M504.5 237 L514.6 238 L523.6 238.7 L529.9 239.4 L535.3 234.6 L539.2 228.8"/>
<path d="M188.2 260.8 C188.8 259.6 190 259.1 191.5 258.8 C195.5 258 201 258.2 205 258.7 L213 260.2 M188.8 260.4 C187.9 263.3 188 267.3 189 270.3 C190.1 273.3 192.6 275.8 197 277.4"/>
<path d="M183 278 L200 278.1 L220 278.4 L231.4 279.1 L239.6 279.8 L250.2 281.3"/>
<path d="M192.6 227.4 L194.5 240.4"/>
<path d="M194.5 240.4 L191.2 244.6 L188.6 248.2 L185.2 254.5 L182.6 260.5 L181 265.5" stroke-width="3"/>
<path d="M838.5 227.1 L846 234.4 L846 261 Q846 263.2 843 263.4 L840 263.9 M840 271.3 L843 271.8 Q846 272 846 274.4 L846 299 L838.5 306.4"/>
</g>
</svg>
</body></html>
